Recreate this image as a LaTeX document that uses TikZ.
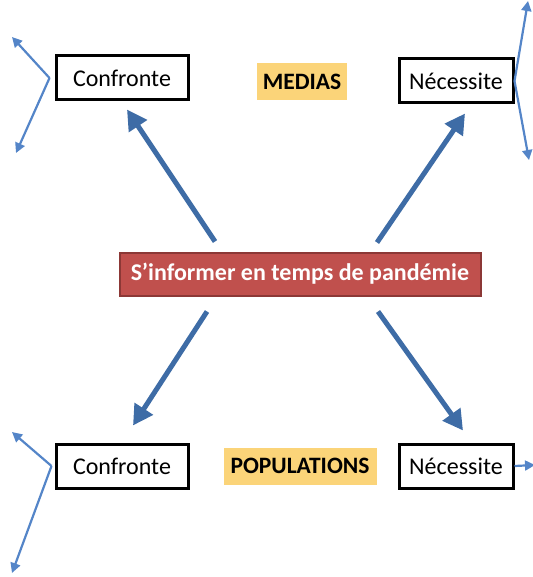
\documentclass[tikz,border=0pt]{standalone}
\usepackage{fontspec}
\setmainfont{Carlito}
\usetikzlibrary{arrows.meta}
\definecolor{fleuve}{RGB}{62,108,166}
\definecolor{ciel}{RGB}{84,133,200}
\definecolor{brique}{RGB}{192,80,77}
\definecolor{briquefonce}{RGB}{140,56,54}
\definecolor{miel}{RGB}{251,212,121}
\begin{document}
\begin{tikzpicture}[x=1pt,y=-1pt,
    cadre/.style = {rectangle,draw=black,line width=3pt,fill=white,minimum height=44pt,inner sep=0pt,font=\fontsize{24}{28}\selectfont},
    titre/.style = {rectangle,draw=briquefonce,line width=2pt,fill=brique,text=white,minimum width=361pt,minimum height=43pt,font=\fontsize{24}{28}\selectfont\bfseries},
    etiquette/.style = {rectangle,fill=miel,minimum height=37pt,inner sep=0pt,font=\fontsize{23.5}{28}\selectfont\bfseries},
    fleche/.style = {draw=fleuve,line width=5pt,-{Triangle[length=20pt,width=21pt]}},
    fine/.style = {draw=ciel,line width=2.2pt,-{Triangle[length=10pt,width=10pt]}}]
\useasboundingbox (0,0) rectangle (532,577);
\node[titre] (centre) at (300,274) {S’informer en temps de pandémie};
\node[cadre,minimum width=132pt] (conf1) at (122,78) {Confronte};
\node[cadre,minimum width=114pt] (nec1) at (456,81) {Nécessite};
\node[cadre,minimum width=132pt] (conf2) at (122,466) {Confronte};
\node[cadre,minimum width=114pt] (nec2) at (456,466) {Nécessite};
\node[etiquette,minimum width=90pt] (medias) at (302,82) {MEDIAS};
\node[etiquette,minimum width=153pt] (popu) at (300,466) {POPULATIONS};
\coordinate (d1) at ([shift={(-85,-10)}]centre.north);
\coordinate (d2) at ([shift={(77,-9)}]centre.north);
\coordinate (d3) at ([shift={(-93,15)}]centre.south);
\coordinate (d4) at ([shift={(78,15)}]centre.south);
\draw[fleche] (d1) -- ([shift={(5,8)}]conf1.south);
\draw[fleche] (d2) -- ([shift={(9,9)}]nec1.south);
\draw[fleche] (d3) -- ([shift={(11,-17)}]conf2.north);
\draw[fleche] (d4) -- ([shift={(7,-12)}]nec2.north);
\coordinate (v1) at ([xshift=-5]conf1.west);
\coordinate (v2) at ([xshift=-3]conf2.west);
\coordinate (h1) at (12,37);
\coordinate (b1) at (16,153);
\coordinate (h2) at (12,432);
\coordinate (b2) at (12,573);
\coordinate (h3) at (528,1);
\coordinate (b3) at (529,160);
\coordinate (f4) at (535,465);
\draw[fine] (v1) -- (h1);
\draw[fine] (v1) -- (b1);
\draw[fine] (v2) -- (h2);
\draw[fine] (v2) -- (b2);
\draw[fine] (nec1.east) -- (h3);
\draw[fine] (nec1.east) -- (b3);
\draw[fine] (nec2.east) -- (f4);
\end{tikzpicture}
\end{document}
